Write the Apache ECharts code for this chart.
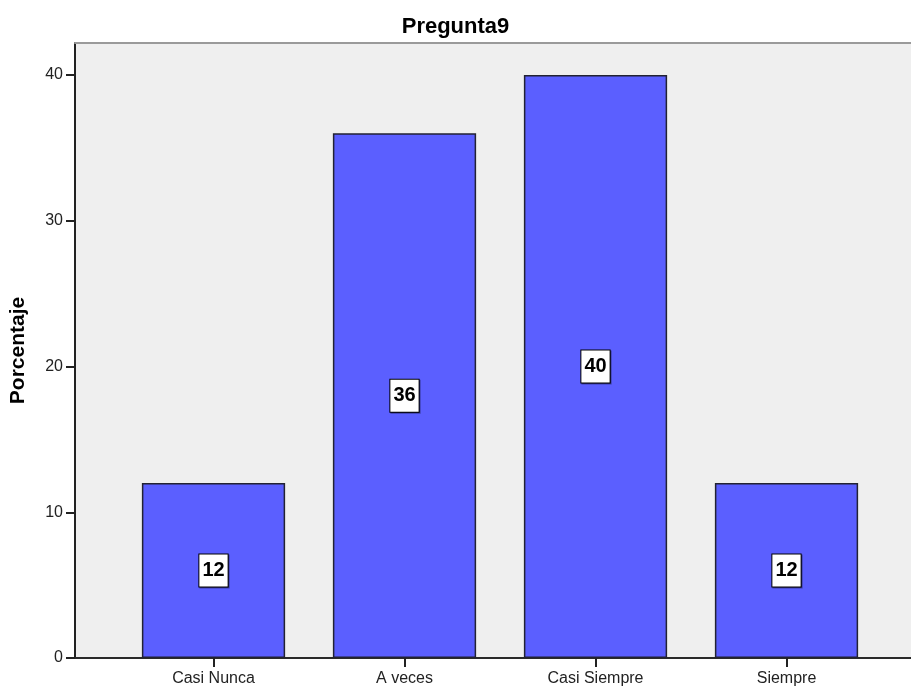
<!DOCTYPE html>
<html>
<head>
<meta charset="utf-8">
<script src="https://cdn.jsdelivr.net/npm/echarts@6/dist/echarts.min.js"></script>
<style>
  html, body { margin: 0; padding: 0; background: #fff; }
  #chart { width: 911px; height: 689px; }
</style>
</head>
<body>
<div id="chart"></div>
<script>
// Response categories and percentage per category
const categories = ['Casi Nunca', 'A veces', 'Casi Siempre', 'Siempre'];
const percentages = [12, 36, 40, 12];
const yTicks = [0, 10, 20, 30, 40];

const chart = echarts.init(document.getElementById('chart'));
const Y_MAX = 42.2;
const FONT = 'Liberation Sans, Arial, sans-serif';

chart.setOption({
  animation: false,
  backgroundColor: '#ffffff',
  title: {
    text: 'Pregunta9',
    left: 'center',
    top: 11,
    textStyle: { fontFamily: FONT, fontSize: 22, fontWeight: 'bold', color: '#000' }
  },
  grid: [
    { left: 75, top: 43, right: 0, bottom: 31, outerBoundsMode: 'none', containLabel: false,
      show: true, backgroundColor: '#efefef', borderWidth: 0 },
    { left: 118, top: 43, width: 764, bottom: 31, outerBoundsMode: 'none', containLabel: false }
  ],
  xAxis: [
    { gridIndex: 0, type: 'value', min: 0, max: 1, position: 'bottom',
      axisLine: { show: true, lineStyle: { color: '#2a2a2a', width: 2 } },
      axisTick: { show: false }, axisLabel: { show: false }, splitLine: { show: false } },
    { gridIndex: 0, type: 'value', min: 0, max: 1, position: 'top',
      axisLine: { show: true, lineStyle: { color: '#9a9a9a', width: 2 } },
      axisTick: { show: false }, axisLabel: { show: false }, splitLine: { show: false } },
    { gridIndex: 1, type: 'category', data: categories, position: 'bottom',
      axisLine: { show: false },
      axisTick: { show: true, alignWithLabel: true, length: 9, lineStyle: { color: '#222', width: 2 } },
      axisLabel: { margin: 13, fontFamily: FONT, fontSize: 16, color: '#222' } }
  ],
  yAxis: [
    { gridIndex: 0, type: 'value', min: 0, max: Y_MAX,
      name: 'Porcentaje', nameLocation: 'middle', nameGap: 46, nameRotate: 90,
      nameTextStyle: { fontFamily: FONT, fontSize: 21, fontWeight: 'bold', color: '#000' },
      axisLine: { show: true, lineStyle: { color: '#222', width: 2 } },
      axisTick: { show: true, length: 9, lineStyle: { color: '#222', width: 2 },
        customValues: yTicks },
      axisLabel: { margin: 12, fontFamily: FONT, fontSize: 16, color: '#222',
        customValues: yTicks },
      splitLine: { show: false } },
    { gridIndex: 1, type: 'value', min: 0, max: Y_MAX, show: false }
  ],
  series: [{
    type: 'bar',
    xAxisIndex: 2,
    yAxisIndex: 1,
    data: percentages,
    barCategoryGap: '25%',
    itemStyle: { color: '#5b5fff', borderColor: '#222233', borderWidth: 1.5 },
    label: {
      show: true,
      position: 'inside',
      formatter: '{c}',
      fontFamily: FONT,
      fontSize: 20,
      lineHeight: 21,
      fontWeight: 'bold',
      color: '#000',
      backgroundColor: '#ffffff',
      borderColor: '#000',
      borderWidth: 1,
      padding: [6, 3, 5, 3],
      shadowColor: 'rgba(0,0,0,0.35)',
      shadowOffsetX: 1,
      shadowOffsetY: 1,
      shadowBlur: 0
    }
  }]
});
</script>
</body>
</html>
